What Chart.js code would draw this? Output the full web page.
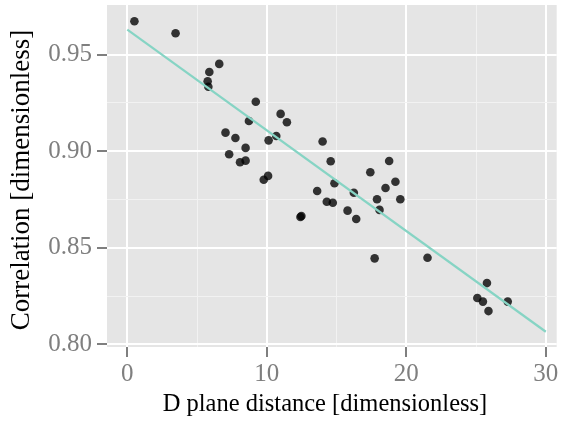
<!DOCTYPE html>
<html>
<head>
<meta charset="utf-8">
<script src="https://cdn.jsdelivr.net/npm/chart.js@4.4.1/dist/chart.umd.min.js"></script>
<style>
  html, body { margin: 0; padding: 0; background: #ffffff; }
  #wrap { width: 561px; height: 421px; }
</style>
</head>
<body>
<div id="wrap"><canvas id="chart" width="561" height="421"></canvas></div>
<script>
// --- DATA ---
const distance = [
    0.51, 3.46, 6.59, 5.88, 5.76, 5.81, 9.21, 8.72, 7.04, 7.75,
    8.48, 7.30, 8.48, 8.08, 10.99, 11.44, 10.68, 10.13, 14.00, 14.58,
    10.09, 9.78, 14.85, 13.61, 14.30, 14.73, 12.41, 12.48, 18.77, 17.42,
    19.22, 18.51, 16.24, 17.90, 19.57, 15.79, 18.08, 16.41, 17.73, 21.52,
    25.78, 25.09, 25.49, 27.27, 25.89
];
const correlation = [
    0.9673, 0.9611, 0.9452, 0.9410, 0.9362, 0.9334, 0.9256, 0.9156, 0.9096, 0.9068,
    0.9017, 0.8984, 0.8951, 0.8943, 0.9193, 0.9150, 0.9079, 0.9056, 0.9050, 0.8948,
    0.8872, 0.8852, 0.8834, 0.8794, 0.8738, 0.8733, 0.8659, 0.8664, 0.8949, 0.8891,
    0.8842, 0.8809, 0.8785, 0.8751, 0.8751, 0.8692, 0.8696, 0.8649, 0.8445, 0.8448,
    0.8317, 0.8240, 0.8221, 0.8221, 0.8172
];
const fitX = [0, 30];
const fitY = [0.963, 0.8065];

const xMajor = [0, 10, 20, 30];
const xMinor = [5, 15, 25];
const yMajor = [0.80, 0.85, 0.90, 0.95];
const yMinor = [0.825, 0.875, 0.925];

const xTitle = 'D plane distance [dimensionless]';
const yTitle = 'Correlation [dimensionless]';

// --- HELPERS ---
const SERIF = "'Liberation Serif', 'Times New Roman', serif";
const isMajor = (list, v) => list.some(m => Math.abs(m - v) < 1e-9);

function setTicks(major, minor) {
    return scale => {
        scale.ticks = [...major, ...minor].sort((a, b) => a - b).map(v => ({ value: v }));
    };
}

const panelBackground = {
    id: 'panelBackground',
    beforeDraw(chart) {
        const { ctx, chartArea: a } = chart;
        ctx.save();
        ctx.fillStyle = '#e5e5e5';
        ctx.fillRect(a.left, a.top, a.right - a.left, a.bottom - a.top);
        ctx.restore();
    }
};

// axis titles sit where ggplot put them, not where Chart.js would centre them
const axisTitles = {
    id: 'axisTitles',
    afterDraw(chart) {
        const ctx = chart.ctx;
        ctx.save();
        ctx.fillStyle = '#000000';
        ctx.textAlign = 'center';
        ctx.textBaseline = 'middle';
        ctx.font = `24.5px ${SERIF}`;
        ctx.fillText(xTitle, 325, 405);
        ctx.translate(22, 180);
        ctx.rotate(-Math.PI / 2);
        ctx.font = `27px ${SERIF}`;
        ctx.fillText(yTitle, 0, 0);
        ctx.restore();
    }
};

function gridFor(major) {
    return {
        color: c => isMajor(major, c.tick.value) ? '#ffffff' : '#f2f2f2',
        lineWidth: c => isMajor(major, c.tick.value) ? 2 : 1,
        tickColor: c => isMajor(major, c.tick.value) ? '#7f7f7f' : 'rgba(0,0,0,0)',
        tickWidth: 2,
        tickLength: 10,
        drawTicks: true
    };
}

// --- CHART ---
new Chart(document.getElementById('chart').getContext('2d'), {
    type: 'scatter',
    data: {
        datasets: [
            {
                label: 'fit',
                data: fitX.map((x, i) => ({ x, y: fitY[i] })),
                showLine: true,
                borderColor: '#86d4c4',
                borderWidth: 2.2,
                pointRadius: 0,
                fill: false
            },
            {
                label: 'points',
                data: distance.map((x, i) => ({ x, y: correlation[i] })),
                backgroundColor: 'rgba(0,0,0,0.78)',
                borderWidth: 0,
                pointRadius: 4.3,
                pointHoverRadius: 4.3
            }
        ]
    },
    options: {
        responsive: false,
        animation: false,
        layout: { padding: { top: 5, right: 0, left: 0, bottom: 0 } },
        plugins: {
            legend: { display: false },
            tooltip: { enabled: false }
        },
        scales: {
            x: {
                type: 'linear',
                min: -1.455,
                max: 30.78,
                afterBuildTicks: setTicks(xMajor, xMinor),
                afterFit: s => { s.height = 74; s.paddingLeft = 0; s.paddingRight = 0; },
                border: { display: false },
                grid: gridFor(xMajor),
                ticks: {
                    color: '#7f7f7f',
                    font: { family: SERIF, size: 25 },
                    padding: 2,
                    maxRotation: 0,
                    callback: v => isMajor(xMajor, v) ? String(v) : ''
                },
                title: { display: false }
            },
            y: {
                type: 'linear',
                min: 0.7986,
                max: 0.9757,
                afterBuildTicks: setTicks(yMajor, yMinor),
                afterFit: s => { s.width = 107; s.paddingTop = 0; s.paddingBottom = 0; },
                border: { display: false },
                grid: gridFor(yMajor),
                ticks: {
                    color: '#7f7f7f',
                    font: { family: SERIF, size: 25 },
                    padding: 5,
                    callback: v => isMajor(yMajor, v) ? v.toFixed(2) : ''
                },
                title: { display: false }
            }
        }
    },
    plugins: [panelBackground, axisTitles]
});
</script>
</body>
</html>
